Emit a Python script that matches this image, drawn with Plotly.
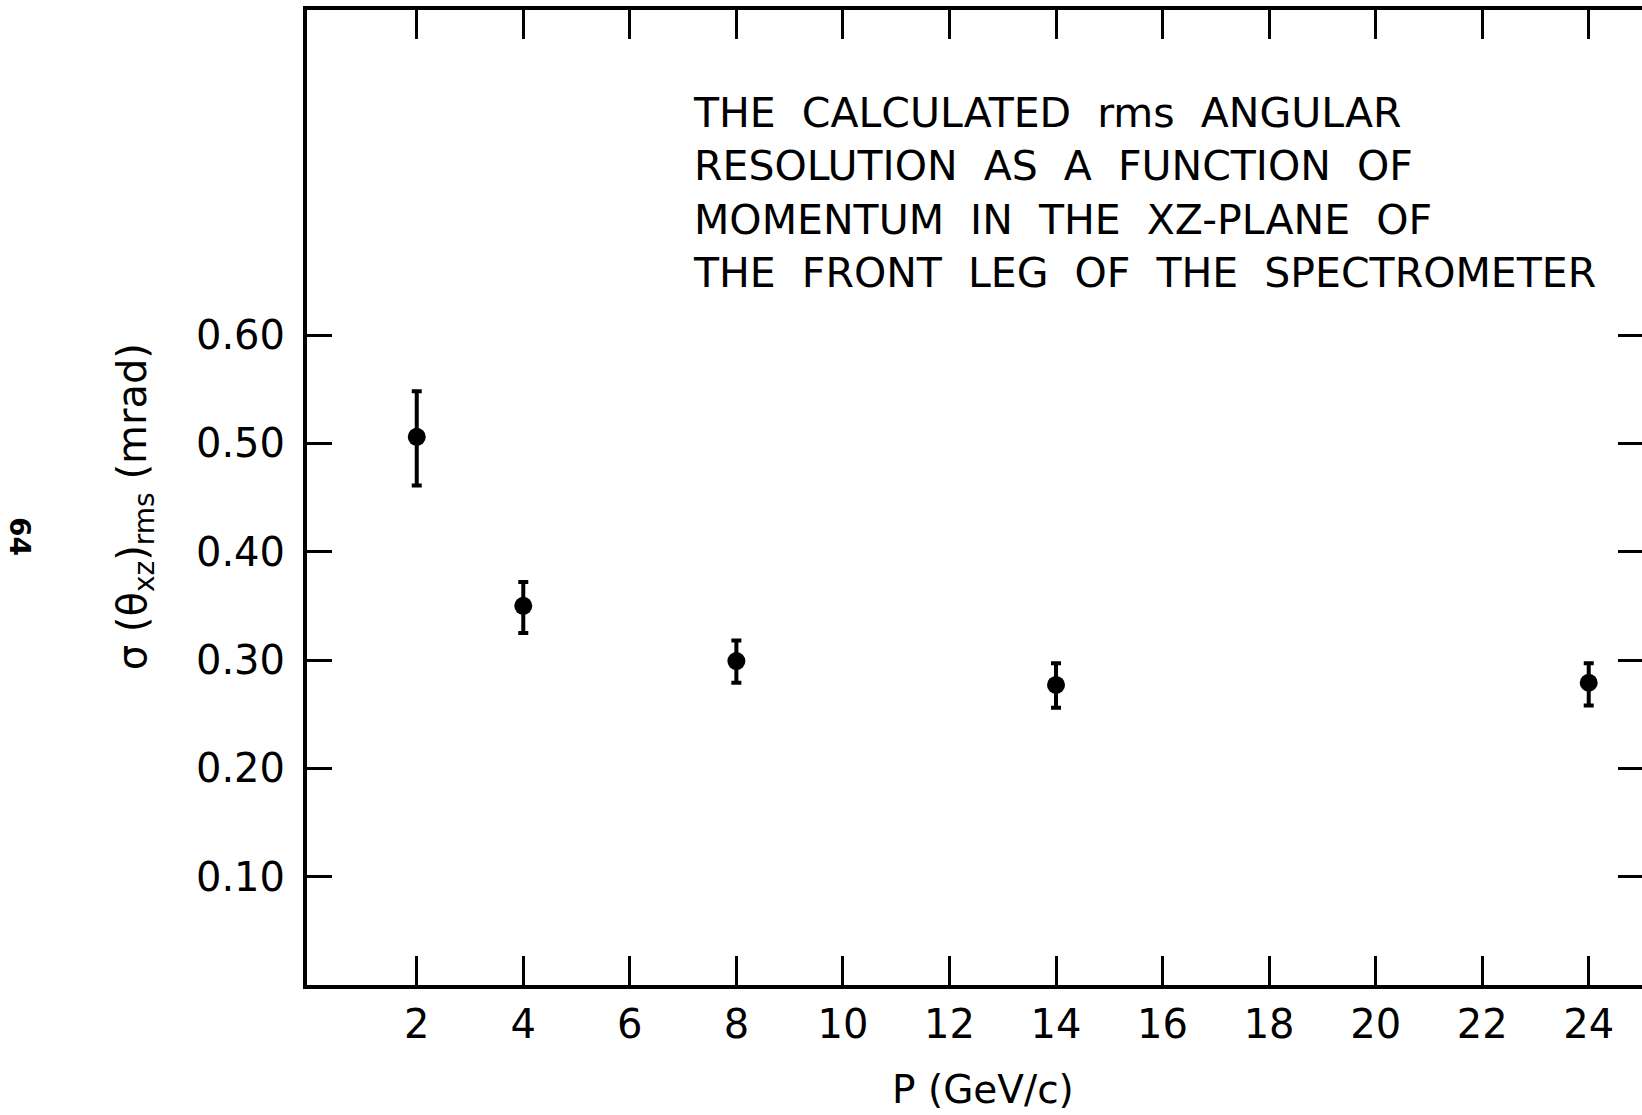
import plotly.graph_objects as go

# Momentum points (GeV/c) and calculated rms angular resolution (mrad)
momentum = [2, 4, 8, 14, 24]
sigma_rms = [0.506, 0.350, 0.299, 0.277, 0.279]
err_plus = [0.042, 0.022, 0.019, 0.020, 0.018]
err_minus = [0.045, 0.025, 0.020, 0.021, 0.021]

x_ticks = [2, 4, 6, 8, 10, 12, 14, 16, 18, 20, 22, 24]
y_ticks = [0.10, 0.20, 0.30, 0.40, 0.50, 0.60]
y_tick_text = ["0.10", "0.20", "0.30", "0.40", "0.50", "0.60"]

x_range = [-0.06, 25.0]
y_range = [0.0, 0.90]

FONT = "DejaVu Sans"
INK = "black"

fig = go.Figure()

fig.add_trace(go.Scatter(
    x=momentum, y=sigma_rms,
    mode="markers",
    marker=dict(size=18, color=INK),
    error_y=dict(type="data", array=err_plus, arrayminus=err_minus,
                 symmetric=False, thickness=4, width=5, color=INK),
    showlegend=False, hoverinfo="skip",
))

# invisible trace so the right-hand tick axis is drawn
fig.add_trace(go.Scatter(x=[None], y=[None], yaxis="y2", showlegend=False))

axis_common = dict(
    ticks="inside", tickcolor=INK, tickwidth=3,
    showgrid=False, zeroline=False,
    tickfont=dict(family=FONT, size=40, color=INK),
)

fig.update_layout(
    width=1642, height=1115,
    margin=dict(l=307, r=0, t=10, b=130),
    paper_bgcolor="white", plot_bgcolor="white",
    xaxis=dict(
        range=x_range, tickvals=x_ticks, ticklen=29,
        showline=True, linecolor=INK, linewidth=4, mirror="ticks",
        ticklabelstandoff=1,
        **axis_common,
    ),
    yaxis=dict(
        range=y_range, tickvals=y_ticks, ticktext=y_tick_text, ticklen=25,
        showline=True, linecolor=INK, linewidth=4,
        ticklabelstandoff=10,
        **axis_common,
    ),
    yaxis2=dict(
        range=y_range, tickvals=y_ticks, ticklen=24, overlaying="y", side="right",
        showline=False, showticklabels=False,
        ticks="inside", tickcolor=INK, tickwidth=3, showgrid=False, zeroline=False,
    ),
)

caption = ("THE  CALCULATED  rms  ANGULAR<br>"
           "RESOLUTION  AS  A  FUNCTION  OF<br>"
           "MOMENTUM  IN  THE  XZ-PLANE  OF<br>"
           "THE  FRONT  LEG  OF  THE  SPECTROMETER")

fig.add_annotation(
    text=caption, xref="x", yref="paper", x=7.15, y=0.921,
    xanchor="left", yanchor="top", align="left", showarrow=False,
    font=dict(family=FONT, size=41, color=INK),
)

fig.add_annotation(
    text="P (GeV/c)", xref="paper", yref="paper", x=0.506, y=0,
    xanchor="center", yanchor="middle", yshift=-104, showarrow=False,
    font=dict(family=FONT, size=39, color=INK),
)

fig.add_annotation(
    text="σ (θ<sub>xz</sub>)<sub>rms</sub> (mrad)", xref="paper", yref="paper",
    x=0, y=0.49, xanchor="center", yanchor="middle", xshift=-172,
    textangle=-90, showarrow=False,
    font=dict(family=FONT, size=40, color=INK),
)

fig.add_annotation(
    text="<b>64</b>", xref="paper", yref="paper",
    x=0, y=0.4605, xanchor="center", yanchor="middle", xshift=-287,
    textangle=90, showarrow=False,
    font=dict(family=FONT, size=28, color=INK),
)

fig.write_html("out.html")
